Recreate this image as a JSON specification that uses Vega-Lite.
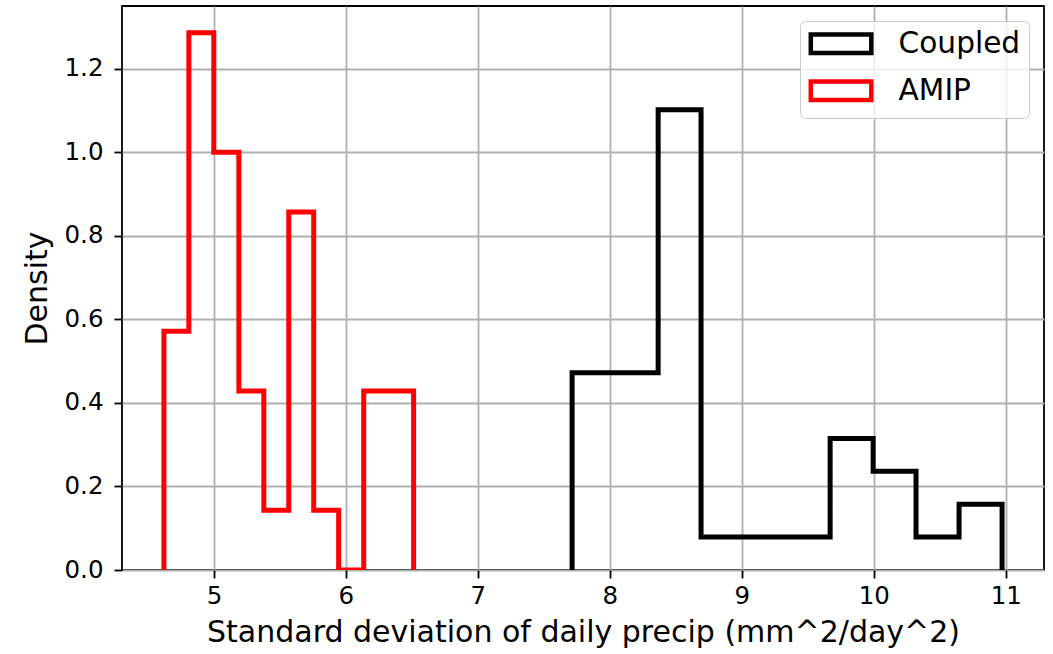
{
  "$schema": "https://vega.github.io/schema/vega-lite/v6.json",
  "width": 922,
  "height": 564,
  "autosize": {"type": "none"},
  "padding": {"left": 122, "top": 6, "right": 9, "bottom": 84},
  "background": "white",
  "config": {
    "font": "DejaVu Sans",
    "view": {"stroke": "black", "strokeWidth": 1.8},
    "axis": {
      "domain": false,
      "grid": true,
      "gridColor": "#b0b0b0",
      "gridWidth": 1.8,
      "tickColor": "black",
      "tickWidth": 1.8,
      "tickSize": 8,
      "labelFont": "DejaVu Sans",
      "labelFontSize": 24.5,
      "labelColor": "black",
      "titleFont": "DejaVu Sans",
      "titleFontSize": 30,
      "titleFontWeight": "normal",
      "titleColor": "black"
    }
  },
  "data": {
    "values": [
      {"series": "Coupled", "o": 0, "x": 7.714, "y": 0},
      {"series": "Coupled", "o": 1, "x": 7.714, "y": 0.4722},
      {"series": "Coupled", "o": 2, "x": 8.040, "y": 0.4722},
      {"series": "Coupled", "o": 3, "x": 8.366, "y": 1.1019},
      {"series": "Coupled", "o": 4, "x": 8.691, "y": 0.0787},
      {"series": "Coupled", "o": 5, "x": 9.017, "y": 0.0787},
      {"series": "Coupled", "o": 6, "x": 9.343, "y": 0.0787},
      {"series": "Coupled", "o": 7, "x": 9.669, "y": 0.3148},
      {"series": "Coupled", "o": 8, "x": 9.995, "y": 0.2361},
      {"series": "Coupled", "o": 9, "x": 10.320, "y": 0.0787},
      {"series": "Coupled", "o": 10, "x": 10.646, "y": 0.1574},
      {"series": "Coupled", "o": 11, "x": 10.972, "y": 0.1574},
      {"series": "Coupled", "o": 12, "x": 10.972, "y": 0},
      {"series": "AMIP", "o": 0, "x": 4.621, "y": 0},
      {"series": "AMIP", "o": 1, "x": 4.621, "y": 0.5714},
      {"series": "AMIP", "o": 2, "x": 4.810, "y": 1.2857},
      {"series": "AMIP", "o": 3, "x": 4.999, "y": 1.0},
      {"series": "AMIP", "o": 4, "x": 5.189, "y": 0.4286},
      {"series": "AMIP", "o": 5, "x": 5.378, "y": 0.1429},
      {"series": "AMIP", "o": 6, "x": 5.567, "y": 0.8571},
      {"series": "AMIP", "o": 7, "x": 5.756, "y": 0.1429},
      {"series": "AMIP", "o": 8, "x": 5.945, "y": 0},
      {"series": "AMIP", "o": 9, "x": 6.135, "y": 0.4286},
      {"series": "AMIP", "o": 10, "x": 6.324, "y": 0.4286},
      {"series": "AMIP", "o": 11, "x": 6.513, "y": 0.4286},
      {"series": "AMIP", "o": 12, "x": 6.513, "y": 0}
    ]
  },
  "mark": {"type": "line", "interpolate": "step-after", "strokeWidth": 5, "strokeJoin": "miter", "strokeCap": "butt", "clip": true},
  "encoding": {
    "x": {
      "field": "x", "type": "quantitative",
      "scale": {"domain": [4.3034, 11.2896], "nice": false, "zero": false},
      "axis": {"title": "Standard deviation of daily precip (mm^2/day^2)", "values": [5, 6, 7, 8, 9, 10, 11], "format": "d", "labelPadding": 6, "titlePadding": 10}
    },
    "y": {
      "field": "y", "type": "quantitative",
      "scale": {"domain": [0, 1.35], "nice": false},
      "axis": {"title": "Density", "values": [0, 0.2, 0.4, 0.6, 0.8, 1.0, 1.2], "format": ".1f", "labelPadding": 11, "titlePadding": 12}
    },
    "color": {
      "field": "series", "type": "nominal",
      "scale": {"domain": ["Coupled", "AMIP"], "range": ["black", "red"]},
      "legend": {
        "title": null,
        "orient": "top-right",
        "offset": 15,
        "padding": 8,
        "fillColor": "rgba(255,255,255,0.8)",
        "strokeColor": "#cccccc",
        "cornerRadius": 5,
        "symbolType": "M-2.75,-0.84L2.75,-0.84L2.75,0.84L-2.75,0.84Z",
        "symbolSize": 484,
        "symbolStrokeWidth": 4.5,
        "symbolFillColor": "transparent",
        "symbolOffset": 18.25,
        "labelFont": "DejaVu Sans",
        "labelFontSize": 29.6,
        "labelColor": "black",
        "labelOffset": 42.75,
        "labelExpr": "datum.label + ' \u2009'",
        "rowPadding": 9
      }
    },
    "order": {"field": "o", "type": "quantitative"}
  }
}
